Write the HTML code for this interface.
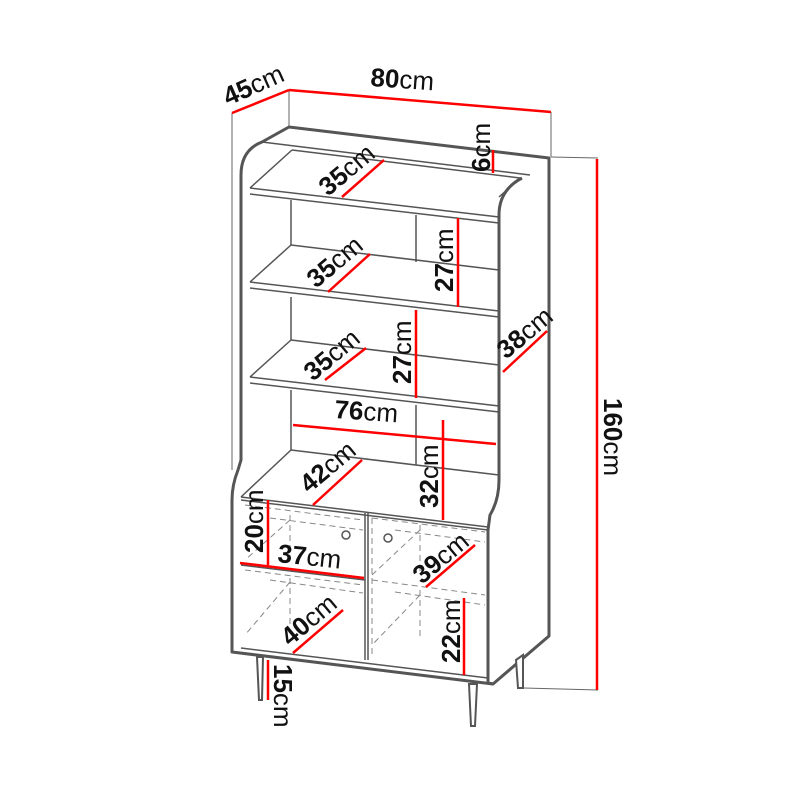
<!DOCTYPE html>
<html><head><style>
html,body{margin:0;padding:0;background:#fff;}
svg{display:block;}
text{font-family:"Liberation Sans",sans-serif;font-size:26px;fill:#111;}
.b{font-weight:bold;}
</style></head><body>
<svg width="800" height="800" viewBox="0 0 800 800" xmlns="http://www.w3.org/2000/svg">
<g fill="none" stroke="#666" stroke-width="1">
 <line x1="289" y1="90" x2="289" y2="127"/>
 <line x1="551" y1="112" x2="551" y2="157"/>
 <line x1="232" y1="113" x2="232" y2="470"/>
 <line x1="551" y1="157" x2="598" y2="158"/>
 <line x1="524" y1="688" x2="598" y2="690"/>
</g>
<g fill="none" stroke="#555" stroke-width="3" stroke-linejoin="round">
 <path d="M289,127 L549,158 L549,636 L493,684 L232,652 L232,500 Q232,485 238,470 L241,460 L241,175 Q241,150 262,142 Z"/>
 <path d="M522,178 Q499,190 499,215 L499,480 Q499,500 490,515 L488,530 L488,683"/>
 <line x1="488" y1="683" x2="493" y2="684"/>
</g>
<g fill="none" stroke="#555" stroke-width="1.5">
 <line x1="262" y1="142" x2="530" y2="175"/>
 <line x1="292" y1="150" x2="520" y2="178"/>
 <line x1="292" y1="150" x2="250" y2="188"/>
 <line x1="520" y1="178" x2="499" y2="197"/>
 <line x1="250" y1="188" x2="499" y2="217"/>
 <line x1="250" y1="194" x2="499" y2="223"/>
 <line x1="291" y1="200" x2="291" y2="245"/>
 <line x1="416" y1="215" x2="416" y2="262"/>
 <line x1="291" y1="297" x2="291" y2="340"/>
 <line x1="291" y1="390" x2="291" y2="450"/>
 <line x1="416" y1="405" x2="416" y2="465"/>
 <line x1="291" y1="245" x2="499" y2="270"/>
 <line x1="291" y1="245" x2="250" y2="282"/>
 <line x1="250" y1="282" x2="499" y2="311"/>
 <line x1="250" y1="288" x2="499" y2="317"/>
 <line x1="291" y1="340" x2="499" y2="365"/>
 <line x1="291" y1="340" x2="250" y2="377"/>
 <line x1="250" y1="377" x2="499" y2="406"/>
 <line x1="250" y1="383" x2="499" y2="412"/>
 <line x1="291" y1="450" x2="499" y2="475"/>
 <line x1="291" y1="450" x2="241" y2="497"/>
 <line x1="241" y1="497" x2="488" y2="527"/>
 <line x1="241" y1="500" x2="488" y2="530"/>
 <line x1="365" y1="513" x2="365" y2="660"/>
 <line x1="368" y1="513" x2="368" y2="660"/>
 <line x1="241" y1="565" x2="365" y2="580"/>
 <line x1="241" y1="648" x2="488" y2="678"/>
 <circle cx="346" cy="535" r="4"/>
 <circle cx="388" cy="538" r="4"/>
</g>
<g fill="none" stroke="#888" stroke-width="1" stroke-dasharray="6,4">
 <line x1="245" y1="505" x2="363" y2="520"/>
 <line x1="270" y1="518" x2="363" y2="530"/>
 <line x1="245" y1="570" x2="363" y2="585"/>
 <line x1="270" y1="580" x2="363" y2="593"/>
 <line x1="290" y1="520" x2="245" y2="560"/>
 <line x1="290" y1="582" x2="245" y2="635"/>
 <line x1="290" y1="515" x2="290" y2="560"/>
 <line x1="290" y1="578" x2="290" y2="625"/>
 <line x1="372" y1="518" x2="485" y2="532"/>
 <line x1="395" y1="530" x2="485" y2="542"/>
 <line x1="372" y1="580" x2="485" y2="595"/>
 <line x1="395" y1="592" x2="485" y2="605"/>
 <line x1="420" y1="530" x2="372" y2="575"/>
 <line x1="420" y1="595" x2="372" y2="645"/>
 <line x1="420" y1="525" x2="420" y2="575"/>
 <line x1="420" y1="590" x2="420" y2="640"/>
 <line x1="372" y1="518" x2="372" y2="655"/>
</g>
<g fill="#fff" stroke="#555" stroke-width="2">
 <path d="M257,657 L263,657 L262,700 L259,700 Z"/>
 <path d="M469,684 L477,684 L475,726 L471,726 Z"/>
 <path d="M516,660 L523,655 L523,688 L518,688 Z"/>
</g>
<g stroke="#f00" stroke-width="2.5" fill="none">
 <line x1="232" y1="113" x2="289" y2="90"/>
 <line x1="289" y1="90" x2="551" y2="112"/>
 <line x1="597" y1="159" x2="597" y2="690"/>
 <line x1="493" y1="150" x2="493" y2="173"/>
 <line x1="342" y1="197" x2="384" y2="160"/>
 <line x1="458" y1="218" x2="458" y2="307"/>
 <line x1="328" y1="292" x2="370" y2="254"/>
 <line x1="416" y1="310" x2="416" y2="398"/>
 <line x1="325" y1="380" x2="366" y2="348"/>
 <line x1="503" y1="372" x2="547" y2="331"/>
 <line x1="293" y1="425" x2="496" y2="444"/>
 <line x1="443" y1="420" x2="443" y2="520"/>
 <line x1="313" y1="505" x2="362" y2="460"/>
 <line x1="268" y1="500" x2="268" y2="565"/>
 <line x1="240" y1="563" x2="364" y2="578"/>
 <line x1="426" y1="587" x2="475" y2="545"/>
 <line x1="293" y1="653" x2="343" y2="610"/>
 <line x1="464" y1="598" x2="464" y2="675"/>
 <line x1="268" y1="660" x2="268" y2="700"/>
</g>
<text transform="translate(228,106) rotate(-24)"><tspan class="b">45</tspan>cm</text>
<text transform="translate(370,86) rotate(4)"><tspan class="b">80</tspan>cm</text>
<text transform="translate(490,172) rotate(-90)"><tspan class="b">6</tspan>cm</text>
<text transform="translate(328,197) rotate(-40)"><tspan class="b">35</tspan>cm</text>
<text transform="translate(453,292) rotate(-90)"><tspan class="b">27</tspan>cm</text>
<text transform="translate(316,289) rotate(-40)"><tspan class="b">35</tspan>cm</text>
<text transform="translate(411,384) rotate(-90)"><tspan class="b">27</tspan>cm</text>
<text transform="translate(313,382) rotate(-40)"><tspan class="b">35</tspan>cm</text>
<text transform="translate(506,360) rotate(-40)"><tspan class="b">38</tspan>cm</text>
<text transform="translate(334,418) rotate(4)"><tspan class="b">76</tspan>cm</text>
<text transform="translate(438,508) rotate(-90)"><tspan class="b">32</tspan>cm</text>
<text transform="translate(309,494) rotate(-40)"><tspan class="b">42</tspan>cm</text>
<text transform="translate(263,553) rotate(-90)"><tspan class="b">20</tspan>cm</text>
<text transform="translate(277,562) rotate(6)"><tspan class="b">37</tspan>cm</text>
<text transform="translate(422,585) rotate(-40)"><tspan class="b">39</tspan>cm</text>
<text transform="translate(290,647) rotate(-40)"><tspan class="b">40</tspan>cm</text>
<text transform="translate(460,663) rotate(-90)"><tspan class="b">22</tspan>cm</text>
<text transform="translate(274,664) rotate(90)"><tspan class="b">15</tspan>cm</text>
<text transform="translate(604,398) rotate(90)"><tspan class="b">160</tspan>cm</text>
</svg>
</body></html>
